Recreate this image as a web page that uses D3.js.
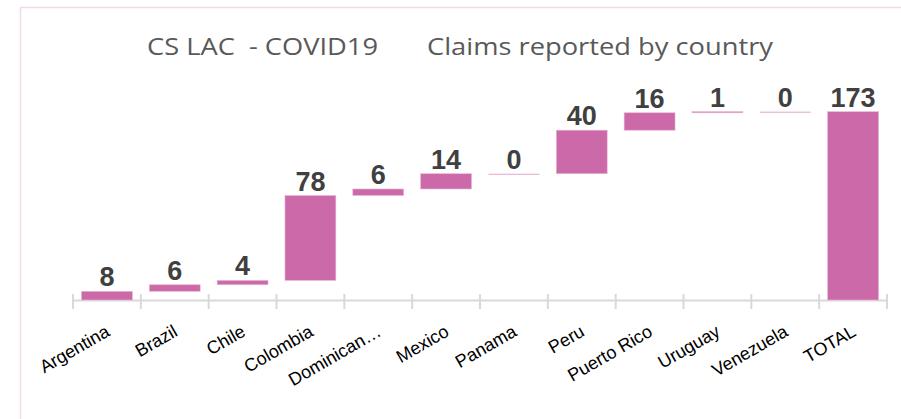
<!DOCTYPE html>
<html>
<head>
<meta charset="utf-8">
<script src="https://cdn.jsdelivr.net/npm/d3@7"></script>
<style>
  html, body { margin: 0; padding: 0; background: #ffffff; }
  svg { display: block; }
</style>
</head>
<body>
<svg id="chart" width="901" height="419"></svg>
<script>
// ---- data ----
const categories = ["Argentina", "Brazil", "Chile", "Colombia", "Dominican…", "Mexico",
                    "Panama", "Peru", "Puerto Rico", "Uruguay", "Venezuela", "TOTAL"];
const values = [8, 6, 4, 78, 6, 14, 0, 40, 16, 1, 0, 173];
const isTotal = [false, false, false, false, false, false, false, false, false, false, false, true];
const titleParts = ["CS LAC  - COVID19", "Claims reported by country"];

// ---- layout ----
const W = 901, H = 419;
const svg = d3.select("#chart");

// outer chart frame (cropped)
svg.append("path")
  .attr("d", `M20.5,${H + 5} L20.5,7.5 L${W + 5},7.5`)
  .attr("fill", "none")
  .attr("stroke", "#f3d8ec")
  .attr("stroke-width", 1.5);

// title
const title = svg.append("text")
  .attr("y", 55)
  .attr("fill", "#595959")
  .style("font-family", "'Open Sans', Lato, sans-serif")
  .style("font-size", "24px")
  .style("white-space", "pre");
title.append("tspan").attr("x", 147).attr("textLength", 231).attr("lengthAdjust", "spacingAndGlyphs").text(titleParts[0]);
title.append("tspan").attr("x", 427).attr("textLength", 346).attr("lengthAdjust", "spacingAndGlyphs").text(titleParts[1]);

// scales
const x = d3.scaleBand().domain(categories).range([73, 887]).paddingInner(0.25).paddingOuter(0.125);
const y = d3.scaleLinear().domain([0, 200]).range([300, 300 - 200 * 1.0885]);

// waterfall computation
let cum = 0;
const rows = categories.map((c, i) => {
  let start, end;
  if (isTotal[i]) { start = 0; end = values[i]; }
  else { start = cum; end = cum + values[i]; cum = end; }
  return { cat: c, v: values[i], start, end };
});

// axis line + cross ticks
const bw = x.step();
const axisG = svg.append("g");
axisG.append("line")
  .attr("x1", 73).attr("x2", 887)
  .attr("y1", y(0) + 0.5).attr("y2", y(0) + 0.5)
  .attr("stroke", "#d9d9d9").attr("stroke-width", 2);
const tickPos = d3.range(categories.length + 1).map(i => 73 + i * bw);
axisG.selectAll("line.tick").data(tickPos).join("line")
  .attr("class", "tick")
  .attr("x1", d => d).attr("x2", d => d)
  .attr("y1", y(0) - 6).attr("y2", y(0) + 9)
  .attr("stroke", "#d9d9d9").attr("stroke-width", 2);

// bars
svg.append("g").selectAll("rect").data(rows).join("rect")
  .attr("x", d => x(d.cat))
  .attr("width", x.bandwidth())
  .attr("y", d => y(Math.max(d.start, d.end)))
  .attr("height", d => Math.max(1, Math.abs(y(d.start) - y(d.end))))
  .attr("fill", d => d.v === 0 ? "#e2a6cc" : "#cc69a8")
  .attr("stroke", d => d.v === 0 ? "none" : "#e7b6d4")
  .attr("stroke-width", 0.6);

// value labels
svg.append("g").selectAll("text").data(rows).join("text")
  .attr("x", d => x(d.cat) + x.bandwidth() / 2)
  .attr("y", d => y(Math.max(d.start, d.end)) - 5)
  .attr("text-anchor", "middle")
  .attr("fill", "#404040")
  .style("font-family", "'Liberation Sans', Arial, sans-serif")
  .style("font-weight", "bold")
  .style("font-size", "27px")
  .text(d => d.v);

// category labels
svg.append("g").selectAll("text").data(categories).join("text")
  .attr("transform", d => `translate(${x(d) + x.bandwidth() / 2 + 4},335) rotate(-30)`)
  .attr("text-anchor", "end")
  .attr("fill", "#000000")
  .style("font-family", "'Liberation Sans', Arial, sans-serif")
  .style("font-size", "18px")
  .text(d => d);
</script>
</body>
</html>
